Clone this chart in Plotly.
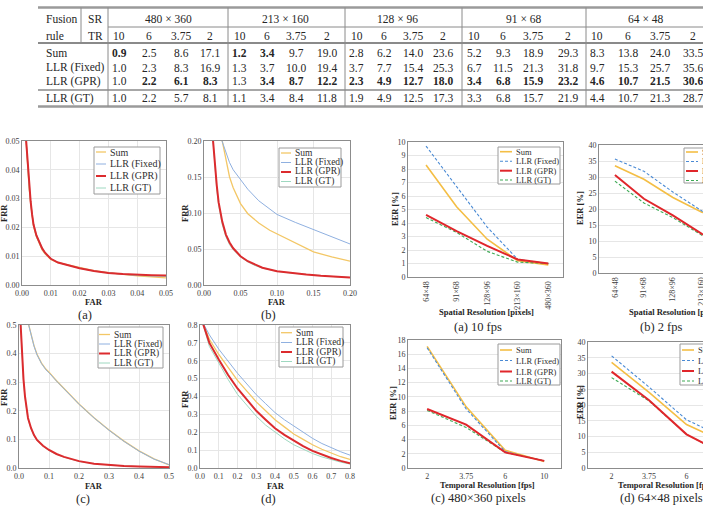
import plotly.graph_objects as go

W, H = 703, 507
SERIF = "Liberation Serif"

# ---------------- table data ----------------
sr_groups = ["480 × 360", "213 × 160", "128 × 96", "91 × 68", "64 × 48"]
tr_values = ["10", "6", "3.75", "2"]
rule_names = ["Sum", "LLR (Fixed)", "LLR (GPR)", "LLR (GT)"]
eer_sum = [[0.9, 2.5, 8.6, 17.1], [1.2, 3.4, 9.7, 19.0], [2.8, 6.2, 14.0, 23.6], [5.2, 9.3, 18.9, 29.3], [8.3, 13.8, 24.0, 33.5]]
eer_fixed = [[1.0, 2.3, 8.3, 16.9], [1.3, 3.7, 10.0, 19.4], [3.7, 7.7, 15.4, 25.3], [6.7, 11.5, 21.3, 31.8], [9.7, 15.3, 25.7, 35.6]]
eer_gpr = [[1.0, 2.2, 6.1, 8.3], [1.3, 3.4, 8.7, 12.2], [2.3, 4.9, 12.7, 18.0], [3.4, 6.8, 15.9, 23.2], [4.6, 10.7, 21.5, 30.6]]
eer_gt = [[1.0, 2.2, 5.7, 8.1], [1.1, 3.4, 8.4, 11.8], [1.9, 4.9, 12.5, 17.3], [3.3, 6.8, 15.7, 21.9], [4.4, 10.7, 21.3, 28.7]]
bold_sum = [(0, 0), (1, 0), (1, 1)]
bold_gpr = [(0, 1), (0, 2), (0, 3), (1, 1), (1, 2), (1, 3),
            (2, 0), (2, 1), (2, 2), (2, 3), (3, 0), (3, 1), (3, 2), (3, 3),
            (4, 0), (4, 1), (4, 2), (4, 3)]

# categories of the EER line charts
spatial_cats = ["64×48", "91×68", "128×96", "213×160", "480×360"]
temporal_cats = ["2", "3.75", "6", "10"]

# ---------------- DET curve data (FAR, FRR) ----------------
a_far = [0.0013, 0.002, 0.0025, 0.003, 0.0035, 0.004, 0.005, 0.006, 0.007, 0.008, 0.009, 0.010, 0.0125, 0.015, 0.020, 0.025, 0.030, 0.035, 0.040, 0.045, 0.050]
a_frr_sum = [0.052, 0.040, 0.0335, 0.0285, 0.024, 0.0205, 0.0168, 0.0142, 0.0122, 0.0108, 0.0097, 0.0089, 0.0078, 0.0072, 0.0061, 0.0050, 0.0043, 0.0037, 0.0032, 0.0028, 0.0025]
a_frr_fixed = [0.052, 0.041, 0.034, 0.029, 0.0245, 0.0212, 0.0175, 0.0149, 0.0129, 0.0113, 0.0101, 0.0092, 0.0079, 0.0071, 0.0059, 0.0049, 0.0042, 0.0037, 0.0034, 0.0032, 0.0031]
a_frr_gpr = [0.052, 0.041, 0.034, 0.029, 0.0245, 0.021, 0.0172, 0.0146, 0.0127, 0.0112, 0.0100, 0.0091, 0.0078, 0.0071, 0.0058, 0.0049, 0.0042, 0.0038, 0.0035, 0.0034, 0.0033]
a_frr_gt = [0.052, 0.0405, 0.0335, 0.0285, 0.024, 0.0205, 0.0168, 0.0142, 0.0123, 0.0109, 0.0098, 0.0090, 0.0078, 0.0071, 0.0058, 0.0048, 0.0042, 0.0037, 0.0033, 0.0031, 0.0030]

b_far_sum = [0.024, 0.03, 0.035, 0.04, 0.05, 0.06, 0.075, 0.09, 0.10, 0.125, 0.15, 0.175, 0.20]
b_frr_sum = [0.205, 0.172, 0.150, 0.135, 0.113, 0.099, 0.086, 0.076, 0.071, 0.058, 0.046, 0.039, 0.033]
b_far_fixed = [0.023, 0.03, 0.035, 0.04, 0.05, 0.06, 0.075, 0.09, 0.10, 0.125, 0.15, 0.175, 0.20]
b_frr_fixed = [0.205, 0.184, 0.170, 0.160, 0.146, 0.133, 0.117, 0.105, 0.098, 0.087, 0.077, 0.068, 0.057]
b_far_llr = [0.012, 0.015, 0.0175, 0.02, 0.025, 0.03, 0.035, 0.04, 0.05, 0.06, 0.07, 0.08, 0.10, 0.12, 0.14, 0.16, 0.18, 0.20]
b_frr_gpr = [0.205, 0.165, 0.138, 0.115, 0.088, 0.070, 0.059, 0.051, 0.040, 0.033, 0.028, 0.024, 0.019, 0.0165, 0.0145, 0.0128, 0.0115, 0.0105]
b_frr_gt = [0.205, 0.160, 0.133, 0.111, 0.084, 0.067, 0.056, 0.049, 0.039, 0.032, 0.027, 0.0235, 0.019, 0.0165, 0.0145, 0.0128, 0.0115, 0.0105]

c_far_sum = [0.030, 0.04, 0.05, 0.06, 0.075, 0.09, 0.10, 0.125, 0.15, 0.175, 0.20, 0.25, 0.30, 0.35, 0.40, 0.45, 0.50]
c_frr_sum = [0.51, 0.465, 0.428, 0.398, 0.367, 0.345, 0.335, 0.305, 0.277, 0.250, 0.224, 0.176, 0.133, 0.094, 0.060, 0.032, 0.011]
c_frr_fixed = [0.51, 0.463, 0.426, 0.396, 0.365, 0.343, 0.333, 0.304, 0.276, 0.249, 0.223, 0.175, 0.132, 0.093, 0.059, 0.031, 0.012]
c_far_llr = [0.005, 0.01, 0.015, 0.02, 0.025, 0.03, 0.04, 0.05, 0.06, 0.08, 0.10, 0.125, 0.15, 0.20, 0.25, 0.30, 0.35, 0.40, 0.45, 0.50]
c_frr_gpr = [0.51, 0.40, 0.31, 0.25, 0.205, 0.175, 0.140, 0.115, 0.098, 0.078, 0.063, 0.049, 0.039, 0.024, 0.015, 0.010, 0.007, 0.005, 0.004, 0.003]
c_frr_gt = [0.51, 0.395, 0.305, 0.245, 0.200, 0.171, 0.137, 0.113, 0.096, 0.076, 0.061, 0.048, 0.038, 0.023, 0.015, 0.010, 0.007, 0.005, 0.004, 0.003]

d_far = [0.012, 0.05, 0.1, 0.15, 0.2, 0.25, 0.3, 0.35, 0.4, 0.45, 0.5, 0.55, 0.6, 0.65, 0.7, 0.75, 0.8]
d_frr_sum = [0.82, 0.72, 0.635, 0.56, 0.49, 0.43, 0.37, 0.32, 0.27, 0.23, 0.19, 0.16, 0.13, 0.105, 0.082, 0.063, 0.048]
d_frr_fixed = [0.82, 0.745, 0.665, 0.595, 0.53, 0.47, 0.41, 0.36, 0.31, 0.27, 0.235, 0.198, 0.166, 0.137, 0.112, 0.091, 0.072]
d_frr_gpr = [0.82, 0.70, 0.607, 0.52, 0.445, 0.38, 0.32, 0.27, 0.222, 0.185, 0.152, 0.122, 0.096, 0.074, 0.056, 0.040, 0.027]
d_frr_gt = [0.82, 0.68, 0.588, 0.495, 0.412, 0.35, 0.29, 0.24, 0.20, 0.163, 0.13, 0.104, 0.081, 0.062, 0.046, 0.033, 0.022]

# ---------------- styles ----------------
left_styles = [
    dict(name="Sum", color="#F3C766", width=1.3, dash="solid"),
    dict(name="LLR (Fixed)", color="#8FB0E0", width=1.0, dash="solid"),
    dict(name="LLR (GPR)", color="#DC2B2E", width=2.0, dash="solid"),
    dict(name="LLR (GT)", color="#9ED8C0", width=1.0, dash="solid"),
]
right_styles = [
    dict(name="Sum", color="#F4BE45", width=1.6, dash="solid"),
    dict(name="LLR (Fixed)", color="#4A8AD4", width=1.1, dash="3px,2px"),
    dict(name="LLR (GPR)", color="#E0262B", width=2.0, dash="solid"),
    dict(name="LLR (GT)", color="#3EAA55", width=1.1, dash="3px,2px"),
]


def xdom(x0, x1):
    return [x0 / W, x1 / W]


def ydom(top, bot):
    return [1 - bot / H, 1 - top / H]


annotations = []
shapes = []


def A(text, x, y, size=11.5, bold=False, angle=0, xanchor="center", color="#262626"):
    if bold:
        text = "<b>" + text + "</b>"
    annotations.append(dict(text=text, x=x / W, y=1 - y / H, xref="paper", yref="paper",
                            showarrow=False, textangle=angle, xanchor=xanchor, yanchor="middle",
                            font=dict(family=SERIF, size=size, color=color)))


def L(x0, y0, x1, y1, color="#8a8a8a", width=1.0, dash="solid"):
    shapes.append(dict(type="line", xref="paper", yref="paper", x0=x0 / W, x1=x1 / W,
                       y0=1 - y0 / H, y1=1 - y1 / H, line=dict(color=color, width=width, dash=dash)))


def R(x0, y0, x1, y1):
    shapes.append(dict(type="rect", xref="paper", yref="paper", x0=x0 / W, x1=x1 / W,
                       y0=1 - y1 / H, y1=1 - y0 / H, fillcolor="white",
                       line=dict(color="#9a9a9a", width=1)))


# ---------------- table ----------------
group_centers = [168, 285, 397, 523, 645]
col_centers = [[119, 149, 181, 210], [240, 267, 296, 327], [357, 384, 413, 443],
               [474, 503, 533, 568], [597, 628, 660, 693]]
row_y = [53, 67.5, 81, 98]
A("Fusion", 44, 19, xanchor="left")
A("rule", 44, 35.5, xanchor="left")
A("SR", 95, 19)
A("TR", 95, 35.5)
for g, gname in enumerate(sr_groups):
    A(gname, group_centers[g], 19)
    for c, tr in enumerate(tr_values):
        A(tr, col_centers[g][c], 35.5)
rows = [eer_sum, eer_fixed, eer_gpr, eer_gt]
bold_rows = [bold_sum, [], bold_gpr, []]
for r, rname in enumerate(rule_names):
    A(rname, 44, row_y[r], xanchor="left")
    for g in range(len(sr_groups)):
        for c in range(len(tr_values)):
            A(f"{rows[r][g][c]:.1f}", col_centers[g][c], row_y[r], bold=(g, c) in bold_rows[r])

L(38, 7.5, 703, 7.5, width=2.5, color="#9a9a9a")
L(108, 27, 703, 27, width=1)
L(38, 43, 703, 43, width=2, color="#8a8a8a")
L(38, 90, 703, 90, width=1.5)
L(38, 106.5, 703, 106.5, width=2.5, color="#9a9a9a")
L(81, 7.5, 81, 43)
for xv in [108, 228, 345, 462, 586]:
    L(xv, 7.5, xv, 106.5)

# ---------------- panels ----------------
panels = [
    # left DET panels
    dict(frame=(22, 166, 141, 285), xr=[0, 0.05], yr=[0, 0.05], xd=0.01, yd=0.01, xf=".2f", yf=".2f", kind="det",
         data=[(a_far, a_frr_sum), (a_far, a_frr_fixed), (a_far, a_frr_gpr), (a_far, a_frr_gt)]),
    dict(frame=(204, 350, 141, 285), xr=[0, 0.2], yr=[0, 0.2], xd=0.05, yd=0.05, xf=".2f", yf=".2f", kind="det",
         data=[(b_far_sum, b_frr_sum), (b_far_fixed, b_frr_fixed), (b_far_llr, b_frr_gpr), (b_far_llr, b_frr_gt)]),
    dict(frame=(19, 169, 325, 468), xr=[0, 0.5], yr=[0, 0.5], xd=0.1, yd=0.1, xf=".1f", yf=".1f", kind="det",
         data=[(c_far_sum, c_frr_sum), (c_far_sum, c_frr_fixed), (c_far_llr, c_frr_gpr), (c_far_llr, c_frr_gt)]),
    dict(frame=(200, 350, 325, 468), xr=[0, 0.8], yr=[0, 0.8], xd=0.1, yd=0.1, xf=".1f", yf=".1f", kind="det",
         data=[(d_far, d_frr_sum), (d_far, d_frr_fixed), (d_far, d_frr_gpr), (d_far, d_frr_gt)]),
    # right EER panels
    dict(frame=(408, 563, 142, 277), xr=[-0.59, 4.48], yr=[0, 10], yd=1, kind="sr", cut=False,
         data=[[rows[s][g][0] for g in range(4, -1, -1)] for s in range(4)]),
    dict(frame=(599, 703, 145, 273), xr=[-0.55, 3.04], yr=[0, 40], yd=5, kind="sr", cut=True,
         data=[[rows[s][g][3] for g in range(4, -1, -1)] for s in range(4)]),
    dict(frame=(408, 561, 340, 468), xr=[-0.49, 3.43], yr=[0, 18], yd=2, kind="tr", cut=False,
         data=[[rows[s][0][c] for c in range(3, -1, -1)] for s in range(4)]),
    dict(frame=(588, 703, 342, 468), xr=[-0.63, 2.44], yr=[0, 40], yd=5, kind="tr", cut=True,
         data=[[rows[s][4][c] for c in range(3, -1, -1)] for s in range(4)]),
]

layout = dict(width=W, height=H, margin=dict(l=0, r=0, t=0, b=0, autoexpand=False),
              paper_bgcolor="white", plot_bgcolor="white", showlegend=False,
              font=dict(family=SERIF, color="#3a3a3a"))

all_traces = []
for i, p in enumerate(panels):
    n = i + 1
    xa = "xaxis" if n == 1 else f"xaxis{n}"
    ya = "yaxis" if n == 1 else f"yaxis{n}"
    xr_ = "x" if n == 1 else f"x{n}"
    yr_ = "y" if n == 1 else f"y{n}"
    x0, x1, top, bot = p["frame"]
    det = p["kind"] == "det"
    tf = dict(family=SERIF, size=8, color="#404040")
    xaxis = dict(domain=xdom(x0, x1), anchor=yr_, range=p["xr"], showline=True, mirror=True,
                 linecolor="#8c8c8c", linewidth=1, zeroline=False, ticks="", tickfont=tf)
    yaxis = dict(domain=ydom(top, bot), anchor=xr_, range=p["yr"], dtick=p["yd"], showline=True,
                 mirror=not p.get("cut", False), linecolor="#8c8c8c", linewidth=1, zeroline=False,
                 ticks="", showgrid=True, gridcolor="#e6e6e6", gridwidth=1, tickfont=tf)
    traces = []
    if det:
        xaxis.update(dtick=p["xd"], tickformat=p["xf"], showgrid=True, gridcolor="#e6e6e6")
        yaxis.update(tickformat=p["yf"])
        for (fx, fy), st in zip(p["data"], left_styles):
            traces.append(go.Scatter(x=fx, y=fy, mode="lines", name=st["name"], xaxis=xr_, yaxis=yr_,
                                     line=dict(color=st["color"], width=st["width"], dash=st["dash"])))
    else:
        cats = spatial_cats if p["kind"] == "sr" else temporal_cats
        xaxis.update(type="category", categoryorder="array", categoryarray=cats, showgrid=False,
                     tickangle=-90 if p["kind"] == "sr" else 0)
        for vals, st in zip(p["data"], right_styles):
            traces.append(go.Scatter(x=cats, y=vals, mode="lines", name=st["name"], xaxis=xr_, yaxis=yr_,
                                     line=dict(color=st["color"], width=st["width"], dash=st["dash"])))
    # draw red (GPR) above the others like the reference
    all_traces += [traces[0], traces[1], traces[3], traces[2]]
    layout[xa] = xaxis
    layout[ya] = yaxis

fig = go.Figure(data=all_traces)

# ---------------- axis titles & captions ----------------
TS = 8.5
A("FAR", 94, 302, size=TS, bold=True)
A("(a)", 85, 314.5, size=12.5)
A("FRR", 4, 213, size=TS, bold=True, angle=-90)
A("FAR", 277, 302, size=TS, bold=True)
A("(b)", 268, 314.5, size=12.5)
A("FRR", 185, 213, size=TS, bold=True, angle=-90)
A("FAR", 94, 486, size=TS, bold=True)
A("(c)", 83, 498.5, size=12.5)
A("FRR", 4, 397, size=TS, bold=True, angle=-90)
A("FAR", 276, 486, size=TS, bold=True)
A("(d)", 268, 498.5, size=12.5)
A("FRR", 185, 399, size=TS, bold=True, angle=-90)

A("Spatial Resolution [pixels]", 486, 312, size=8.5, bold=True)
A("(a) 10 fps", 478, 327, size=12.5)
A("EER [%]", 395, 209, size=TS, bold=True, angle=-90)
A("Spatial Resolution [pixels]", 676, 312, size=8.5, bold=True)
A("(b) 2 fps", 661, 327, size=12.5)
A("EER [%]", 580, 208, size=TS, bold=True, angle=-90)
A("Temporal Resolution [fps]", 487, 485, size=8.5, bold=True)
A("(c) 480×360 pixels", 478, 497.5, size=12.5)
A("EER [%]", 393, 403, size=TS, bold=True, angle=-90)
A("Temporal Resolution [fps]", 665, 485, size=8.5, bold=True)
A("(d) 64×48 pixels", 661, 497.5, size=12.5)
A("EER [%]", 580, 402, size=TS, bold=True, angle=-90)

# ---------------- legends ----------------
legend_specs = [
    dict(box=(94, 147, 160, 194), ys=[152, 164, 176, 188], lx=(96, 106), tx=108, size=10, styles=left_styles),
    dict(box=(279, 148, 341, 187), ys=[153, 162.5, 172, 181.5], lx=(281, 291), tx=292.5, size=9.5, styles=left_styles),
    dict(box=(98, 327, 163, 368), ys=[334.5, 344, 353.5, 363], lx=(99, 110), tx=111.5, size=9.5, styles=left_styles),
    dict(box=(279, 327, 343, 367), ys=[332.7, 342.5, 352, 361.5], lx=(281, 292), tx=293.5, size=9.5, styles=left_styles),
    dict(box=(498, 147, 560, 184), ys=[151.7, 161.3, 170.7, 180], lx=(500, 512), tx=513.5, size=8.5, styles=right_styles),
    dict(box=(684, 148, 740, 183), ys=[152, 161.5, 171, 180.5], lx=(686, 698), tx=699.5, size=8.5, styles=right_styles),
    dict(box=(498, 344, 560, 385), ys=[350, 360.5, 371.5, 381], lx=(500, 512), tx=513.5, size=8.5, styles=right_styles),
    dict(box=(680, 344, 740, 385), ys=[350, 360.5, 371, 381], lx=(682, 694), tx=695.5, size=8.5, styles=right_styles),
]
for lg in legend_specs:
    R(*lg["box"])
    for yv, st in zip(lg["ys"], lg["styles"]):
        L(lg["lx"][0], yv, lg["lx"][1], yv, color=st["color"], width=st["width"], dash=st["dash"])
        A(st["name"], lg["tx"], yv, size=lg["size"], xanchor="left", color="#303030")

layout["annotations"] = annotations
layout["shapes"] = shapes
fig.update_layout(**layout)
fig.write_html("out.html")
